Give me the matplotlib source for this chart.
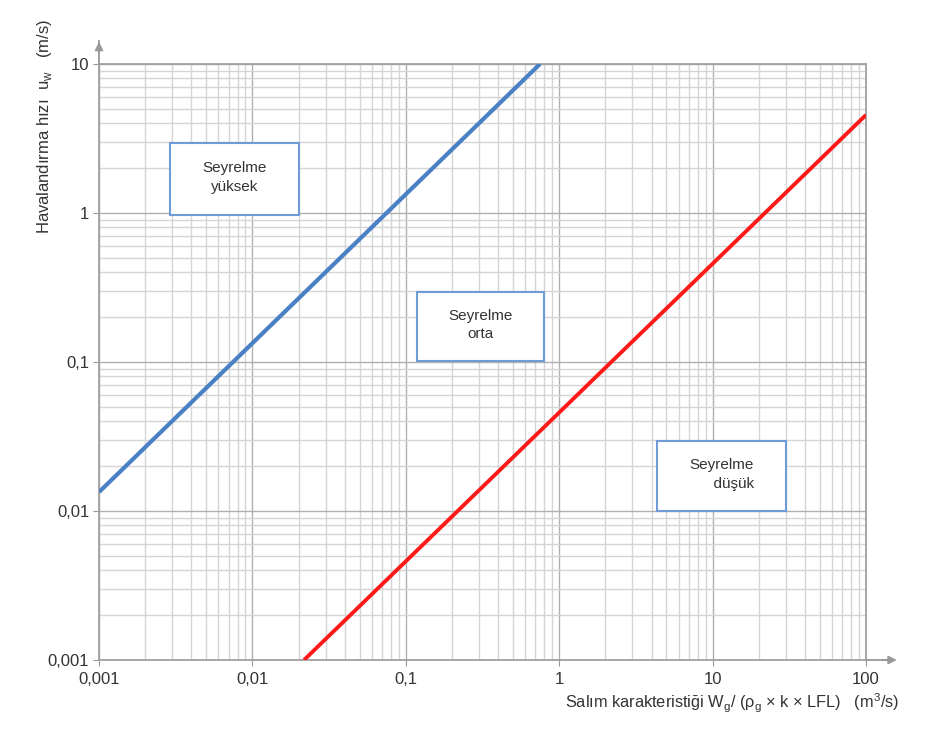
import matplotlib
matplotlib.use("Agg")
import matplotlib.pyplot as plt
from matplotlib.patches import Rectangle
from matplotlib.ticker import FixedLocator, FixedFormatter, LogLocator, NullFormatter

plt.rcParams['font.family'] = ['Liberation Sans', 'DejaVu Sans']

# line end points (log-log, slope ~1)
blue_x = [0.001, 0.75]
blue_y = [0.0134, 10]
red_x = [0.0217, 100]
red_y = [0.001, 4.55]

x_ticks = [0.001, 0.01, 0.1, 1, 10, 100]
x_ticklabels = ['0,001', '0,01', '0,1', '1', '10', '100']
y_ticks = [0.001, 0.01, 0.1, 1, 10]
y_ticklabels = ['0,001', '0,01', '0,1', '1', '10']

zone_labels = ['Seyrelme\nyüksek', 'Seyrelme\norta', 'Seyrelme\n      düşük']

fig = plt.figure(figsize=(9.45, 7.5), dpi=100)
ax = fig.add_axes([0.1048, 0.12, 0.8116, 0.7947])

ax.set_xscale('log')
ax.set_yscale('log')
ax.set_xlim(0.001, 100)
ax.set_ylim(0.001, 10)

ax.plot(blue_x, blue_y, color='#4a80c4', lw=3.0, solid_capstyle='butt', zorder=3)
ax.plot(red_x, red_y, color='#ff1a1a', lw=2.8, solid_capstyle='butt', zorder=3)

ax.xaxis.set_major_locator(FixedLocator(x_ticks))
ax.xaxis.set_major_formatter(FixedFormatter(x_ticklabels))
ax.yaxis.set_major_locator(FixedLocator(y_ticks))
ax.yaxis.set_major_formatter(FixedFormatter(y_ticklabels))
ax.xaxis.set_minor_locator(LogLocator(base=10, subs=range(2, 10), numticks=20))
ax.yaxis.set_minor_locator(LogLocator(base=10, subs=range(2, 10), numticks=20))
ax.xaxis.set_minor_formatter(NullFormatter())
ax.yaxis.set_minor_formatter(NullFormatter())

ax.grid(which='major', color='#b0b0b0', lw=1.0)
ax.grid(which='minor', color='#d5d5d5', lw=1.0)
ax.set_axisbelow(True)

ax.tick_params(which='major', length=4, width=0.8, color='#999999',
               labelsize=12, labelcolor='#333333', pad=3)
ax.tick_params(which='minor', length=0)
ax.tick_params(axis='x', pad=5)

for s in ax.spines.values():
    s.set_color('#a0a0a0')
    s.set_linewidth(1.3)

# axis arrows
fig.add_artist(plt.Line2D([0.1048, 0.1048], [0.9147, 0.945], color='#999999', lw=1.3))
ax.annotate('', xy=(0.1048, 0.948), xycoords='figure fraction',
            xytext=(0.1048, 0.925), textcoords='figure fraction',
            arrowprops=dict(arrowstyle='-|>', color='#999999', lw=1.3, mutation_scale=12))
fig.add_artist(plt.Line2D([0.9164, 0.94], [0.12, 0.12], color='#999999', lw=1.3))
ax.annotate('', xy=(0.952, 0.12), xycoords='figure fraction',
            xytext=(0.93, 0.12), textcoords='figure fraction',
            arrowprops=dict(arrowstyle='-|>', color='#999999', lw=1.3, mutation_scale=12))

# zone boxes (axes fractions)
boxes = [(0.0926, 0.7466, 0.1682, 0.1208),
         (0.4146, 0.5017, 0.1656, 0.1157),
         (0.7275, 0.2500, 0.1682, 0.1174)]
for (bx, by, bw, bh), lab in zip(boxes, zone_labels):
    ax.add_patch(Rectangle((bx, by), bw, bh, transform=ax.transAxes,
                           facecolor='white', edgecolor='#6f9bd6', lw=1.5, zorder=4))
    ax.text(bx + bw / 2, by + bh * 0.52, lab, transform=ax.transAxes,
            ha='center', va='center', fontsize=11, color='#333333',
            linespacing=1.4, zorder=5)

fig.text(0.047, 0.975, 'Havalandırma hızı  u$_\\mathregular{w}$   (m/s)', rotation=90,
         ha='center', va='top', fontsize=12, color='#333333')
fig.text(0.952, 0.062, 'Salım karakteristiği W$_\\mathregular{g}$/ (ρ$_\\mathregular{g}$ × k × LFL)   (m$^\\mathregular{3}$/s)',
         ha='right', va='center', fontsize=11.8, color='#333333')

fig.savefig('out.png', dpi=100, facecolor='white')
